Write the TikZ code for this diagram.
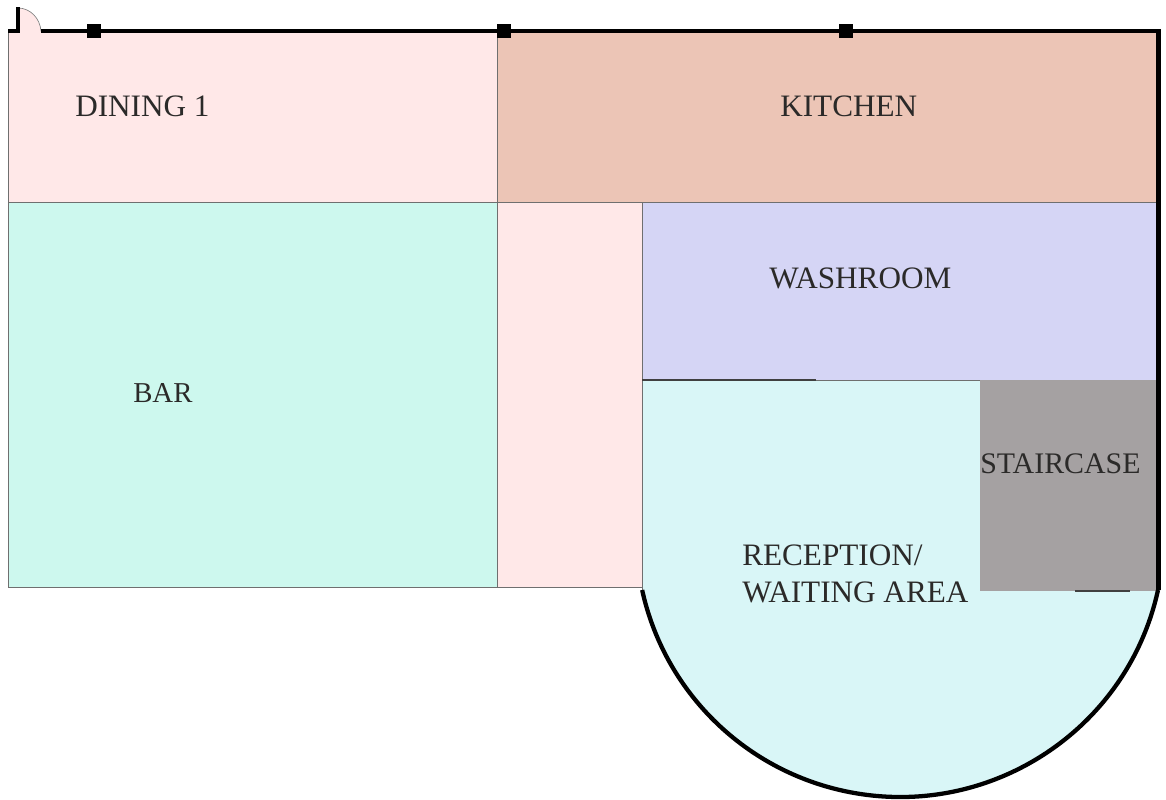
\documentclass[tikz,border=0pt]{standalone}
\usepackage{fontspec}
\setmainfont{Liberation Serif}
\definecolor{pinkroom}{HTML}{FFE8E8}
\definecolor{kitchenc}{HTML}{ECC5B6}
\definecolor{barc}{HTML}{CDF8EE}
\definecolor{washc}{HTML}{D5D5F5}
\definecolor{recepc}{HTML}{D9F6F7}
\definecolor{stairc}{HTML}{A5A1A2}
\definecolor{txtc}{HTML}{2B2A29}
\definecolor{edgec}{HTML}{6F6F6F}
\tikzset{
  room/.style={draw=edgec,line width=0.6pt},
  wall/.style={draw=black,line width=3.2pt},
  thinwall/.style={draw=black!75,line width=0.9pt},
  column/.style={fill=black,minimum width=11pt,minimum height=10.5pt,inner sep=0pt,draw=none},
  lbl/.style={text=txtc,font=\fontsize{23.4}{28}\selectfont,inner sep=0pt,align=left}
}
\begin{document}
\begin{tikzpicture}[x=0.75pt,y=-0.75pt]
\useasboundingbox (0,0) rectangle (1166,799);
% reception with curved bottom
\fill[recepc] (642,380) -- (1158,380) -- (1158,590) arc[start angle=12.3,end angle=167.7,x radius=264,y radius=263] -- cycle;
% rooms
\path[room,fill=pinkroom] (8,31) rectangle (497,202);
\path[room,fill=kitchenc] (497,31) rectangle (1157,202);
\path[room,fill=barc] (8,202) rectangle (497,587);
\path[room,fill=pinkroom] (497,202) rectangle (642,587);
\path[room,fill=washc] (642,202) rectangle (1157,380);
\path[fill=stairc] (980,380) rectangle (1157,591);
\draw[edgec,line width=0.5pt] (642,380) -- (642,590);
% door
\fill[pinkroom] (18,8) .. controls (30,8) and (40,18) .. (41,33) -- (18,33) -- cycle;
\draw[gray,line width=0.5pt] (18,8) .. controls (30,8) and (40,18) .. (41,31);
\coordinate (d0) at (8,31);
\coordinate (d1) at (18,31);
\coordinate (d2) at (18,7);
\coordinate (w0) at (41,31);
\coordinate (w1) at (1158.5,31);
\draw[wall,line cap=butt] (d0) -- (d1) -- (d2);
% outer wall: top, right side, curve
\draw[wall,line join=miter] (w0) -- (w1) -- (1158.5,590);
\draw[wall] (1158,590) arc[start angle=12.3,end angle=167.7,x radius=264,y radius=263];
% columns
\node[column] (c1) at (94,31) {};
\node[column] (c2) at (504,31) {};
\node[column] (c3) at (846,31) {};
% short dark lines
\draw[thinwall] (642,380) -- (816,380);
\draw[thinwall] (1075,591) -- (1130,591);
% labels
\node[lbl,anchor=base west] (dining) at (75,116) {DINING 1};
\node[lbl,anchor=base west] (kitchen) at (780,116) {KITCHEN};
\node[lbl,anchor=base west] (wash) at (769,288) {WASHROOM};
\node[lbl,anchor=base west] (bar) at (133,402) {\fontsize{21.6}{26}\selectfont BAR};
\node[lbl,anchor=base west] (stair) at (980,473) {\fontsize{22.4}{28}\selectfont STAIRCASE};
\node[lbl,anchor=base west] (recep1) at (742,565) {RECEPTION/};
\node[lbl,anchor=base west] (recep2) at (742,602) {WAITING AREA};
\end{tikzpicture}
\end{document}
